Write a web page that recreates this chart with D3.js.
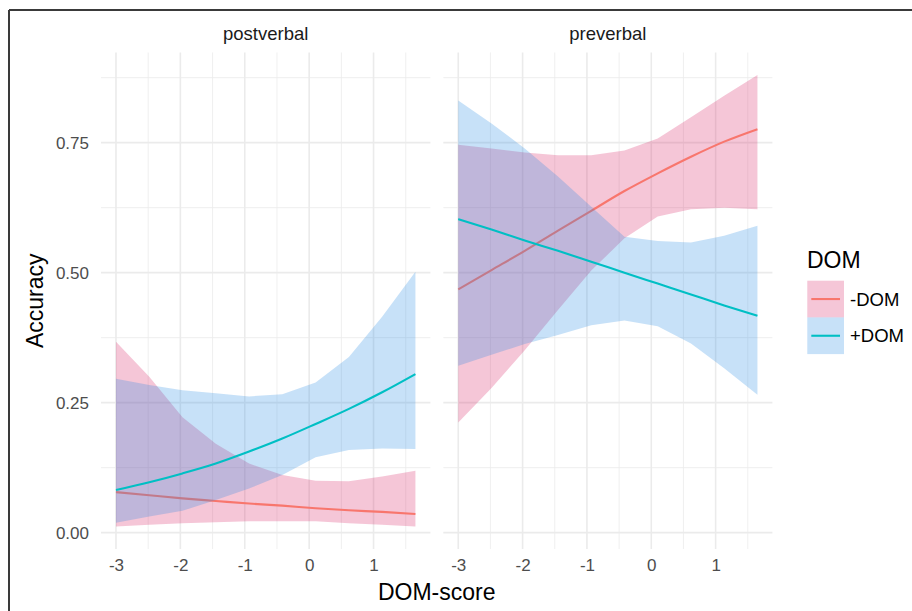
<!DOCTYPE html>
<html>
<head>
<meta charset="utf-8">
<script src="https://cdn.jsdelivr.net/npm/d3@7"></script>
<style>
  html, body { margin: 0; padding: 0; background: #fff; }
  svg { display: block; font-family: "Liberation Sans", Arial, sans-serif; }
</style>
</head>
<body>
<svg id="chart" width="912" height="611"></svg>
<script>
// ---------------- data ----------------
const panels = ["postverbal", "preverbal"];
const groups = ["-DOM", "+DOM"];
const xVals = [-3, -2.483, -1.967, -1.45, -0.933, -0.417, 0.1, 0.617, 1.133, 1.65];

const postMinusFit = [0.078, 0.072, 0.066, 0.061, 0.056, 0.052, 0.047, 0.043, 0.040, 0.036];
const postMinusLo  = [0.012, 0.015, 0.018, 0.020, 0.022, 0.022, 0.022, 0.018, 0.015, 0.012];
const postMinusHi  = [0.367, 0.300, 0.222, 0.171, 0.133, 0.111, 0.100, 0.099, 0.108, 0.119];
const postPlusFit  = [0.082, 0.097, 0.114, 0.133, 0.156, 0.181, 0.209, 0.238, 0.270, 0.305];
const postPlusLo   = [0.019, 0.031, 0.042, 0.063, 0.085, 0.111, 0.145, 0.159, 0.162, 0.161];
const postPlusHi   = [0.296, 0.284, 0.274, 0.268, 0.262, 0.266, 0.289, 0.338, 0.415, 0.502];

const preMinusFit  = [0.468, 0.505, 0.542, 0.581, 0.619, 0.657, 0.691, 0.723, 0.752, 0.776];
const preMinusLo   = [0.212, 0.278, 0.351, 0.428, 0.504, 0.566, 0.608, 0.622, 0.625, 0.622];
const preMinusHi   = [0.746, 0.739, 0.731, 0.726, 0.726, 0.735, 0.758, 0.799, 0.840, 0.880];
const prePlusFit   = [0.603, 0.583, 0.562, 0.542, 0.521, 0.500, 0.479, 0.458, 0.437, 0.417];
const prePlusLo    = [0.321, 0.342, 0.363, 0.380, 0.399, 0.408, 0.397, 0.364, 0.316, 0.265];
const prePlusHi    = [0.831, 0.787, 0.739, 0.685, 0.627, 0.569, 0.561, 0.558, 0.571, 0.590];

const xTicks = [-3, -2, -1, 0, 1];
const xTickLabels = ["-3", "-2", "-1", "0", "1"];
const yTicks = [0, 0.25, 0.5, 0.75];
const yTickLabels = ["0.00", "0.25", "0.50", "0.75"];
const xMinor = [-2.5, -1.5, -0.5, 0.5, 1.5];
const yMinor = [0.125, 0.375, 0.625, 0.875];

// ---------------- build table ----------------
const series = {
  postverbal: {
    "-DOM": { fit: postMinusFit, lo: postMinusLo, hi: postMinusHi },
    "+DOM": { fit: postPlusFit, lo: postPlusLo, hi: postPlusHi }
  },
  preverbal: {
    "-DOM": { fit: preMinusFit, lo: preMinusLo, hi: preMinusHi },
    "+DOM": { fit: prePlusFit, lo: prePlusLo, hi: prePlusHi }
  }
};

const lineColor = { "-DOM": "#F8766D", "+DOM": "#00BFC4" };
const fillColor = { "-DOM": "#D81B60", "+DOM": "#1E88E5" };
const fillAlpha = 0.25;

// ---------------- layout ----------------
const svg = d3.select("#chart");
const panelTop = 52.5, panelBottom = 549;
const panelX = [[101, 430.4], [443.3, 772.4]];

const xDomain = [-3.2325, 1.8825];
const y = d3.scaleLinear().domain([-0.0314, 0.9234]).range([panelBottom, panelTop]);

// frame lines (top and left)
svg.append("line").attr("x1", 9).attr("x2", 912).attr("y1", 10).attr("y2", 10)
  .attr("stroke", "#3a3a3a").attr("stroke-width", 2);
svg.append("line").attr("x1", 9).attr("x2", 9).attr("y1", 10).attr("y2", 611)
  .attr("stroke", "#3a3a3a").attr("stroke-width", 2);

panels.forEach((p, pi) => {
  const x = d3.scaleLinear().domain(xDomain).range(panelX[pi]);
  const g = svg.append("g");

  // grid minor
  g.selectAll(".ymin").data(yMinor).enter().append("line")
    .attr("x1", panelX[pi][0]).attr("x2", panelX[pi][1])
    .attr("y1", d => y(d)).attr("y2", d => y(d))
    .attr("stroke", "#EBEBEB").attr("stroke-width", 0.8);
  g.selectAll(".xmin").data(xMinor).enter().append("line")
    .attr("y1", panelTop).attr("y2", panelBottom)
    .attr("x1", d => x(d)).attr("x2", d => x(d))
    .attr("stroke", "#EBEBEB").attr("stroke-width", 0.8);
  // grid major
  g.selectAll(".ymaj").data(yTicks).enter().append("line")
    .attr("x1", panelX[pi][0]).attr("x2", panelX[pi][1])
    .attr("y1", d => y(d)).attr("y2", d => y(d))
    .attr("stroke", "#EBEBEB").attr("stroke-width", 1.6);
  g.selectAll(".xmaj").data(xTicks).enter().append("line")
    .attr("y1", panelTop).attr("y2", panelBottom)
    .attr("x1", d => x(d)).attr("x2", d => x(d))
    .attr("stroke", "#EBEBEB").attr("stroke-width", 1.6);

  // smooth layers: per group ribbon then line
  groups.forEach(grp => {
    const s = series[p][grp];
    const rows = xVals.map((xv, i) => ({ x: xv, fit: s.fit[i], lo: s.lo[i], hi: s.hi[i] }));
    const area = d3.area().x(d => x(d.x)).y0(d => y(d.lo)).y1(d => y(d.hi));
    const line = d3.line().x(d => x(d.x)).y(d => y(d.fit)).curve(d3.curveMonotoneX);
    g.append("path").datum(rows).attr("d", area)
      .attr("fill", fillColor[grp]).attr("fill-opacity", fillAlpha);
    g.append("path").datum(rows).attr("d", line)
      .attr("fill", "none").attr("stroke", lineColor[grp]).attr("stroke-width", 2.1);
  });

  // x axis labels
  const xa = svg.append("g").attr("transform", `translate(0,${panelBottom + 4})`)
    .call(d3.axisBottom(x).tickValues(xTicks).tickSize(0).tickPadding(6)
      .tickFormat((d, i) => xTickLabels[i]));
  xa.select(".domain").remove();
  xa.selectAll("text").attr("fill", "#4D4D4D").attr("font-size", 17)
    .attr("font-family", "Liberation Sans, Arial, sans-serif");

  // strip label
  svg.append("text").attr("x", (panelX[pi][0] + panelX[pi][1]) / 2).attr("y", 40)
    .attr("text-anchor", "middle").attr("font-size", 18.5).attr("fill", "#1A1A1A").text(p);
});

// y axis labels
const ya = svg.append("g").attr("transform", `translate(${panelX[0][0] - 6},0)`)
  .call(d3.axisLeft(y).tickValues(yTicks).tickSize(0).tickPadding(6)
    .tickFormat((d, i) => yTickLabels[i]));
ya.select(".domain").remove();
ya.selectAll("text").attr("fill", "#4D4D4D").attr("font-size", 17)
  .attr("font-family", "Liberation Sans, Arial, sans-serif");

// axis titles
svg.append("text").attr("x", (panelX[0][0] + panelX[1][1]) / 2).attr("y", 600)
  .attr("text-anchor", "middle").attr("font-size", 23).attr("fill", "#000").text("DOM-score");
svg.append("text").attr("transform", `translate(43,${(panelTop + panelBottom) / 2}) rotate(-90)`)
  .attr("text-anchor", "middle").attr("font-size", 23).attr("fill", "#000").text("Accuracy");

// legend
const lg = svg.append("g");
lg.append("text").attr("x", 807).attr("y", 268).attr("font-size", 23).attr("fill", "#000").text("DOM");
const keySize = 36.7, keyX = 807.3, keyY0 = 280.7;
groups.forEach((grp, i) => {
  const ky = keyY0 + i * keySize;
  lg.append("rect").attr("x", keyX).attr("y", ky).attr("width", keySize).attr("height", keySize)
    .attr("fill", fillColor[grp]).attr("fill-opacity", fillAlpha);
  lg.append("line").attr("x1", keyX + 4).attr("x2", keyX + keySize - 4)
    .attr("y1", ky + keySize / 2).attr("y2", ky + keySize / 2)
    .attr("stroke", lineColor[grp]).attr("stroke-width", 2.1);
  lg.append("text").attr("x", 850).attr("y", ky + keySize / 2).attr("dy", "0.35em")
    .attr("font-size", 18.5).attr("fill", "#000").text(grp);
});
</script>
</body>
</html>
